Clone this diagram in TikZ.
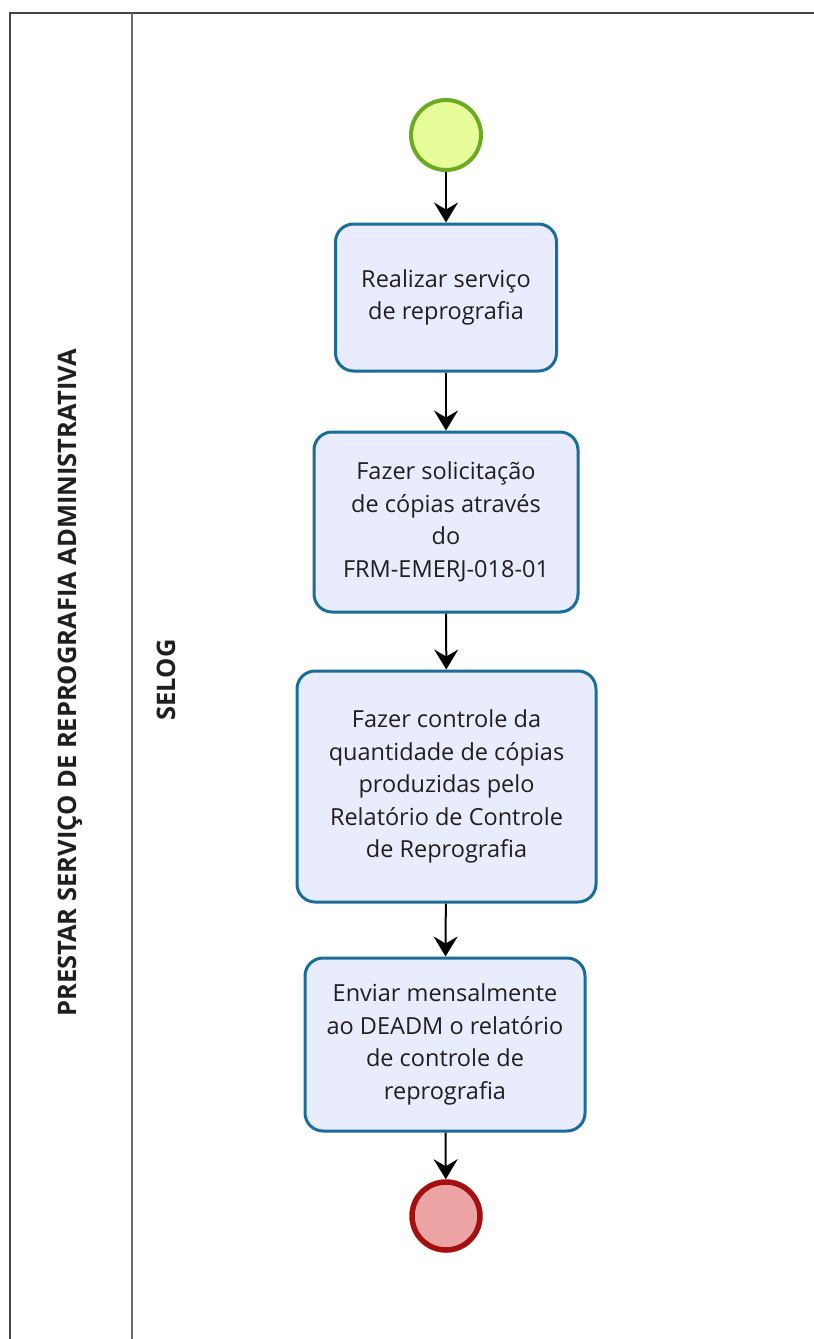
\documentclass[tikz,border=0pt]{standalone}
\usepackage{fontspec}
\setmainfont{Open Sans}
\usetikzlibrary{arrows.meta}
\definecolor{boxline}{HTML}{1B6D99}
\definecolor{boxfill}{HTML}{E8ECFC}
\definecolor{startline}{HTML}{6AAB22}
\definecolor{startfill}{HTML}{E6FD9A}
\definecolor{endline}{HTML}{A50F0F}
\definecolor{endfill}{HTML}{EDA4A4}
\definecolor{laneline}{HTML}{444444}
\tikzset{
  taskbox/.style={draw=boxline, fill=boxfill, line width=3pt, rounded corners=18pt,
    align=center, font=\fontsize{23.5}{32.5}\selectfont, text=black!88, inner sep=0pt},
  startev/.style={circle, draw=startline, fill=startfill, line width=4pt, minimum size=70pt, inner sep=0pt},
  endev/.style={circle, draw=endline, fill=endfill, line width=5.5pt, minimum size=68pt, inner sep=0pt},
  flow/.style={draw=black, line width=2pt, -{Stealth[length=20pt,width=24pt,inset=7pt]}},
  lanetitle/.style={rotate=90, font=\bfseries\fontsize{25.5}{30}\selectfont, text=black!88},
}
\begin{document}
\begin{tikzpicture}[x=1pt,y=-1pt]
\useasboundingbox (0,0) rectangle (814,1339);
% lanes
\draw[laneline, line width=2.5pt] (10,1345) -- (10,13) -- (820,13);
\draw[laneline!80, line width=2pt] (132,13) -- (132,1345);
\node[lanetitle] (pool) at (70,683) {PRESTAR SERVIÇO DE REPROGRAFIA ADMINISTRATIVA};
\node[lanetitle] (lane) at (166,680) {SELOG};
% events and tasks
\node[startev] (start) at (446,135) {};
\node[taskbox, minimum width=221pt, minimum height=147pt] (t1) at (446,297.5) {Realizar serviço\\de reprografia};
\node[taskbox, minimum width=264pt, minimum height=180pt] (t2) at (446,522) {Fazer solicitação\\de cópias através\\do\\FRM-EMERJ-018-01};
\node[taskbox, minimum width=299pt, minimum height=231pt] (t3) at (446.5,786.5) {Fazer controle da\\quantidade de cópias\\produzidas pelo\\Relatório de Controle\\de Reprografia};
\node[taskbox, minimum width=280pt, minimum height=173pt] (t4) at (445,1044.5) {Enviar mensalmente\\ao DEADM o relatório\\de controle de\\reprografia};
\node[endev] (end) at (446,1216) {};
% flows
\draw[flow] (start) -- (t1);
\draw[flow] (t1) -- (t2);
\draw[flow] (t2) -- (t3);
\draw[flow] (t3) -- (t4);
\draw[flow] (t4) -- (end);
\end{tikzpicture}
\end{document}
